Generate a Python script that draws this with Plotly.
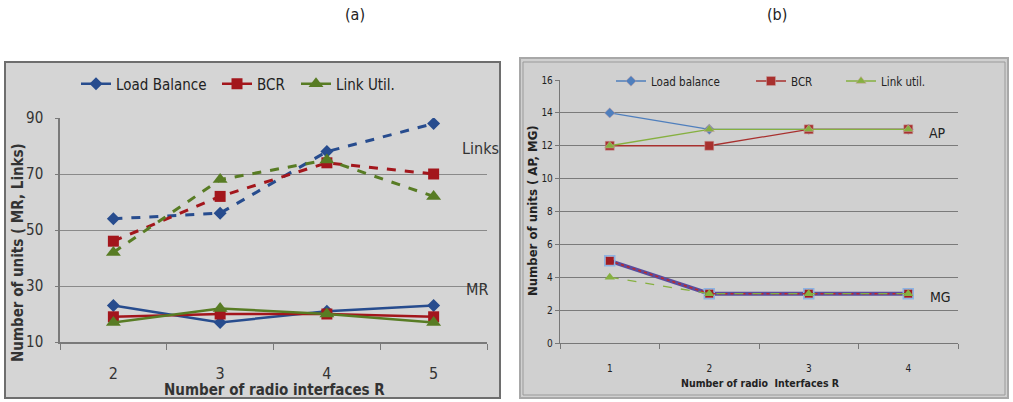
import plotly.graph_objects as go

W, H = 1013, 402

# ---------------- data: panel (a) ----------------
radios_a = [2, 3, 4, 5]
links_load_balance = [54, 56, 78, 88]
links_bcr = [46, 62, 74, 70]
links_link_util = [42, 68, 75, 62]
mr_load_balance = [23, 17, 21, 23]
mr_bcr = [19, 20, 20, 19]
mr_link_util = [17, 22, 20, 17]

# ---------------- data: panel (b) ----------------
radios_b = [1, 2, 3, 4]
ap_load_balance = [14, 13, 13, 13]
ap_bcr = [12, 12, 13, 13]
ap_link_util = [12, 13, 13, 13]
mg_load_balance = [5, 3, 3, 3]
mg_bcr = [5, 3, 3, 3]
mg_link_util = [4, 3, 3, 3]

FONT = "Liberation Sans Narrow, DejaVu Sans Condensed, Roboto Condensed, Open Sans Condensed, Liberation Sans"

def px(x):
    return x / W

def py(y):
    return 1 - y / H

BLUE_A, RED_A, GREEN_A = "#274c8e", "#a3161c", "#587c24"
BLUE_B, RED_B, GREEN_B = "#4f7fbd", "#a8302e", "#86b040"

fig = go.Figure()

for name, vals, col, sym, sz in [
    ("Load Balance", links_load_balance, BLUE_A, "diamond", 10),
    ("BCR", links_bcr, RED_A, "square", 11),
    ("Link Util.", links_link_util, GREEN_A, "triangle-up", 13),
]:
    fig.add_trace(go.Scatter(x=radios_a, y=vals, mode="lines+markers", name=name,
                             line=dict(color=col, width=3, dash="dash"),
                             marker=dict(color=col, symbol=sym, size=sz),
                             showlegend=False, xaxis="x", yaxis="y"))
for name, vals, col, sym, sz, lg in [
    ("Load Balance", mr_load_balance, BLUE_A, "diamond", 10, "legend"),
    ("BCR", mr_bcr, RED_A, "square", 11, "legend5"),
    ("Link Util.", mr_link_util, GREEN_A, "triangle-up", 13, "legend6"),
]:
    fig.add_trace(go.Scatter(x=radios_a, y=vals, mode="lines+markers", name=name,
                             line=dict(color=col, width=2.5),
                             marker=dict(color=col, symbol=sym, size=sz),
                             legend=lg, xaxis="x", yaxis="y"))

for name, vals, col, sym, sz, lg in [
    ("Load balance", ap_load_balance, BLUE_B, "diamond", 8, "legend2"),
    ("BCR", ap_bcr, RED_B, "square", 9, "legend3"),
    ("Link util.", ap_link_util, GREEN_B, "triangle-up", 9, "legend4"),
]:
    fig.add_trace(go.Scatter(x=radios_b, y=vals, mode="lines+markers", name=name,
                             line=dict(color=col, width=1.3),
                             marker=dict(color=col, symbol=sym, size=sz,
                                         line=dict(color="#c9a0a0", width=0.5)),
                             legend=lg, xaxis="x2", yaxis="y2"))
fig.add_trace(go.Scatter(x=radios_b, y=mg_load_balance, mode="lines+markers", name="Load balance",
                         line=dict(color="#5a4d9e", width=4),
                         marker=dict(color="#8db3e2", symbol="square-x-open", size=10,
                                     line=dict(width=1.5)),
                         showlegend=False, xaxis="x2", yaxis="y2"))
fig.add_trace(go.Scatter(x=radios_b, y=mg_bcr, mode="lines+markers", name="BCR",
                         line=dict(color="#c0282a", width=1.5, dash="dot"),
                         marker=dict(color="#a01c22", symbol="square", size=8),
                         showlegend=False, xaxis="x2", yaxis="y2"))
fig.add_trace(go.Scatter(x=radios_b, y=mg_link_util, mode="lines+markers", name="Link util.",
                         line=dict(color=GREEN_B, width=1.3, dash="dash"),
                         marker=dict(color=GREEN_B, symbol="triangle-up", size=9),
                         showlegend=False, xaxis="x2", yaxis="y2"))

shapes = [
    dict(type="rect", xref="paper", yref="paper", x0=px(5), x1=px(500), y0=py(398), y1=py(62),
         fillcolor="#d5d5d5", line=dict(color="#6e6e6e", width=2), layer="below"),
    dict(type="rect", xref="paper", yref="paper", x0=px(520), x1=px(1008), y0=py(398), y1=py(58),
         fillcolor="#d0d0d0", line=dict(color="#a8a8a8", width=2), layer="below"),
    dict(type="rect", xref="paper", yref="paper", x0=px(523), x1=px(1005), y0=py(395), y1=py(62),
         fillcolor="rgba(0,0,0,0)", line=dict(color="#9a9a9a", width=1), layer="below"),
]

def ann(text, x, y, size, color="#333", angle=0):
    return dict(text=text, x=px(x), y=py(y), xref="paper", yref="paper", showarrow=False,
                xanchor="center", yanchor="middle", textangle=angle,
                font=dict(family=FONT, size=size, color=color))

annotations = [
    ann("(a)", 355, 15, 16, "#222"),
    ann("(b)", 777, 15, 16, "#222"),
    ann("Links", 480, 148, 16),
    ann("MR", 477, 289, 16),
    ann("AP", 937, 133, 14, "#222"),
    ann("MG", 940, 297, 14, "#222"),
    ann("<b>Number of units ( MR, Links)</b>", 18, 253, 15, angle=-90),
    ann("<b>Number of radio interfaces R</b>", 274, 390, 15),
    ann("<b>Number of units ( AP, MG)</b>", 532, 211, 13, "#222", angle=-90),
    ann("<b>Number of radio  Interfaces R</b>", 760, 383, 10.5, "#222"),
]

def leg(x, y, size):
    return dict(x=px(x), y=py(y), xanchor="left", yanchor="middle", orientation="h",
                bgcolor="rgba(0,0,0,0)", font=dict(family=FONT, size=size, color="#222"),
                itemwidth=30)

fig.update_layout(
    width=W, height=H,
    margin=dict(l=0, r=0, t=0, b=0, autoexpand=False),
    paper_bgcolor="white", plot_bgcolor="rgba(0,0,0,0)",
    font=dict(family=FONT, color="#333"),
    shapes=shapes, annotations=annotations,
    xaxis=dict(domain=[px(60), px(487)], range=[1.5, 5.5], tickvals=radios_a,
               ticktext=[str(v) for v in radios_a], showgrid=False, zeroline=False,
               showline=True, linecolor="#7a7a7a", linewidth=1.5, ticks="",
               automargin=False,
               ticklabelstandoff=16, tickfont=dict(family=FONT, size=16, color="#333"),
               minor=dict(ticks="outside", tick0=1.5, dtick=1, ticklen=6,
                          tickcolor="#7a7a7a", showgrid=False)),
    yaxis=dict(domain=[py(342), py(118)], range=[10, 90], tickvals=[10, 30, 50, 70, 90],
               showgrid=True, gridcolor="#8a8a8a", gridwidth=1.3, zeroline=False,
               showline=True, linecolor="#7a7a7a", linewidth=1.5, ticks="outside", ticklen=3,
               tickcolor="#7a7a7a", ticklabelstandoff=9, automargin=False,
               tickfont=dict(family=FONT, size=15, color="#333")),
    xaxis2=dict(domain=[px(560), px(958)], range=[0.5, 4.5], tickvals=radios_b,
                ticktext=[str(v) for v in radios_b], showgrid=False, zeroline=False,
                showline=True, linecolor="#777", linewidth=1.3, ticks="", automargin=False,
                ticklabelstandoff=16, tickfont=dict(family=FONT, size=10, color="#222"),
                minor=dict(ticks="outside", tick0=0.5, dtick=1, ticklen=5,
                           tickcolor="#777", showgrid=False), anchor="y2"),
    yaxis2=dict(domain=[py(343), py(80)], range=[0, 16], dtick=2, tick0=0,
                showgrid=True, gridcolor="#7a7a7a", gridwidth=1, zeroline=False,
                showline=True, linecolor="#777", linewidth=1.3, ticks="outside", ticklen=4,
                tickcolor="#777", automargin=False,
                tickfont=dict(family=FONT, size=10, color="#222"),
                anchor="x2"),
    legend=leg(76, 84, 15),
    legend5=leg(217, 84, 15),
    legend6=leg(296, 84, 15),
    legend2=leg(611, 81, 11.5),
    legend3=leg(751, 81, 11.5),
    legend4=leg(841, 81, 11.5),
)

fig.write_html("out.html", config={"displayModeBar": False},
               post_script="document.body.style.margin='0';")
